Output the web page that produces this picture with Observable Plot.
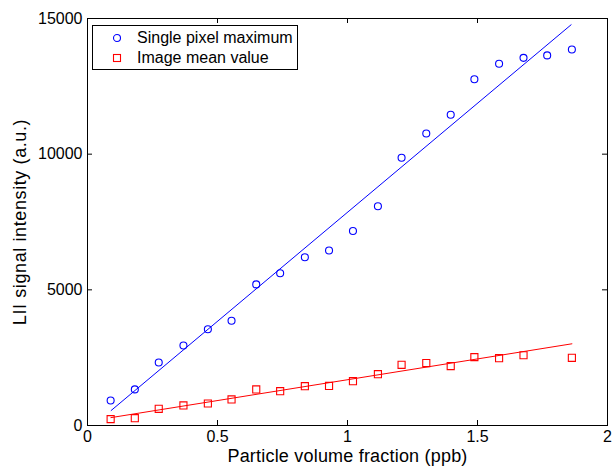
<!DOCTYPE html>
<html>
<head>
<meta charset="utf-8">
<script src="https://cdn.jsdelivr.net/npm/d3@7"></script>
<script src="https://cdn.jsdelivr.net/npm/@observablehq/plot@0.6"></script>
<style>
  html, body { margin: 0; padding: 0; background: #fff; }
  #wrap { position: relative; width: 612px; height: 468px; font-family: "Liberation Sans", Arial, sans-serif; }
  #legend { position: absolute; left: 92px; top: 25px; width: 206px; height: 45px; border: 1px solid #000; background: #fff; box-sizing: border-box; font-size: 16px; color: #000; }
  #legend .row { position: absolute; left: 0; height: 20px; display: flex; align-items: center; }
  #legend svg { margin-left: 19px; margin-right: 15px; }
</style>
</head>
<body>
<div id="wrap">
  <div id="chart"></div>
  <div id="legend"></div>
</div>
<script>
// ---- data ----
const xValues = [0.089, 0.182, 0.274, 0.369, 0.463, 0.554, 0.649, 0.741, 0.836, 0.929, 1.021, 1.117, 1.208, 1.303, 1.397, 1.488, 1.583, 1.677, 1.768, 1.863];
const pixelMax = [920, 1330, 2320, 2950, 3550, 3860, 5200, 5610, 6200, 6450, 7170, 8080, 9870, 10760, 11450, 12760, 13330, 13550, 13640, 13860];
const xMean = [0.089, 0.182, 0.274, 0.369, 0.463, 0.554, 0.649, 0.741, 0.836, 0.929, 1.021, 1.117, 1.208, 1.303, 1.397, 1.488, 1.583, 1.677, 1.863];
const imageMean = [235, 270, 615, 740, 810, 960, 1330, 1265, 1450, 1460, 1635, 1890, 2235, 2300, 2190, 2520, 2480, 2590, 2495];
const fitMaxX = [0.091, 1.860];
const fitMaxY = [553, 14769];
const fitMeanX = [0.090, 1.863];
const fitMeanY = [290, 3011];
const xTicks = [0, 0.5, 1, 1.5, 2];
const yTicks = [0, 5000, 10000, 15000];
const seriesNames = ["Single pixel maximum", "Image mean value"];
const seriesColors = ["#0000ff", "#ff0000"];
const xLabel = "Particle volume fraction (ppb)";
const yLabel = "LII signal intensity (a.u.)";

const maxData = xValues.map((x, i) => ({x, y: pixelMax[i]}));
const meanData = xMean.map((x, i) => ({x, y: imageMean[i]}));
const fitMax = fitMaxX.map((x, i) => ({x, y: fitMaxY[i]}));
const fitMean = fitMeanX.map((x, i) => ({x, y: fitMeanY[i]}));

const W = 612, H = 468, mL = 87, mR = 5, mT = 18, mB = 43;
const innerW = W - mL - mR, innerH = H - mT - mB;
const tick = 5;
const fmt = d => String(d);

const chart = Plot.plot({
  width: W, height: H,
  marginLeft: mL, marginRight: mR, marginTop: mT, marginBottom: mB,
  style: {fontFamily: "'Liberation Sans', Arial, sans-serif", fontSize: "16px", color: "#000", background: "#fff", overflow: "visible"},
  x: {domain: [0, 2]},
  y: {domain: [0, 15000]},
  marks: [
    Plot.axisX(xTicks, {tickSize: 0, tickPadding: 5, label: null, fontSize: 16, tickFormat: fmt}),
    Plot.axisY(yTicks, {tickSize: 0, tickPadding: 5, label: null, fontSize: 16, tickFormat: fmt}),
    Plot.ruleX(xTicks, {x: d => d, insetTop: innerH - tick, stroke: "#000"}),
    Plot.ruleX(xTicks, {x: d => d, insetBottom: innerH - tick, stroke: "#000"}),
    Plot.ruleY(yTicks, {y: d => d, insetRight: innerW - tick, stroke: "#000"}),
    Plot.ruleY(yTicks, {y: d => d, insetLeft: innerW - tick, stroke: "#000"}),
    Plot.line(fitMax, {x: "x", y: "y", stroke: seriesColors[0], strokeWidth: 1}),
    Plot.line(fitMean, {x: "x", y: "y", stroke: seriesColors[1], strokeWidth: 1}),
    Plot.dot(maxData, {x: "x", y: "y", r: 3.5, stroke: seriesColors[0], fill: "none", strokeWidth: 1.1}),
    Plot.dot(meanData, {x: "x", y: "y", r: 4, symbol: "square", stroke: seriesColors[1], fill: "none", strokeWidth: 1.1}),
    Plot.frame({stroke: "#000", strokeWidth: 1}),
    Plot.text([xLabel], {frameAnchor: "bottom", lineAnchor: "middle", dy: 31, fontSize: 18, text: d => d, fill: "#000"}),
    Plot.text([yLabel], {frameAnchor: "left", textAnchor: "middle", lineAnchor: "middle", dx: -67, rotate: -90, fontSize: 18, text: d => d, fill: "#000"})
  ]
});
document.getElementById("chart").appendChild(chart);
// slight letter spacing on axis titles to mimic the original's wider rendering
d3.select(chart).selectAll("text").each(function() {
  const t = this.textContent;
  if (t === xLabel) this.setAttribute("letter-spacing", "0.2");
  if (t === yLabel) this.setAttribute("letter-spacing", "0.6");
});

// legend
const legend = document.getElementById("legend");
seriesNames.forEach((name, i) => {
  const row = document.createElement("div");
  row.className = "row";
  row.style.top = (2 + i * 20) + "px";
  const sym = i === 0
    ? `<circle cx="5" cy="5" r="3.5" fill="none" stroke="${seriesColors[i]}" stroke-width="1.1"/>`
    : `<rect x="1.5" y="1.5" width="7" height="7" fill="none" stroke="${seriesColors[i]}" stroke-width="1.1"/>`;
  row.innerHTML = `<svg width="10" height="10">${sym}</svg><span>${name}</span>`;
  legend.appendChild(row);
});
</script>
</body>
</html>
